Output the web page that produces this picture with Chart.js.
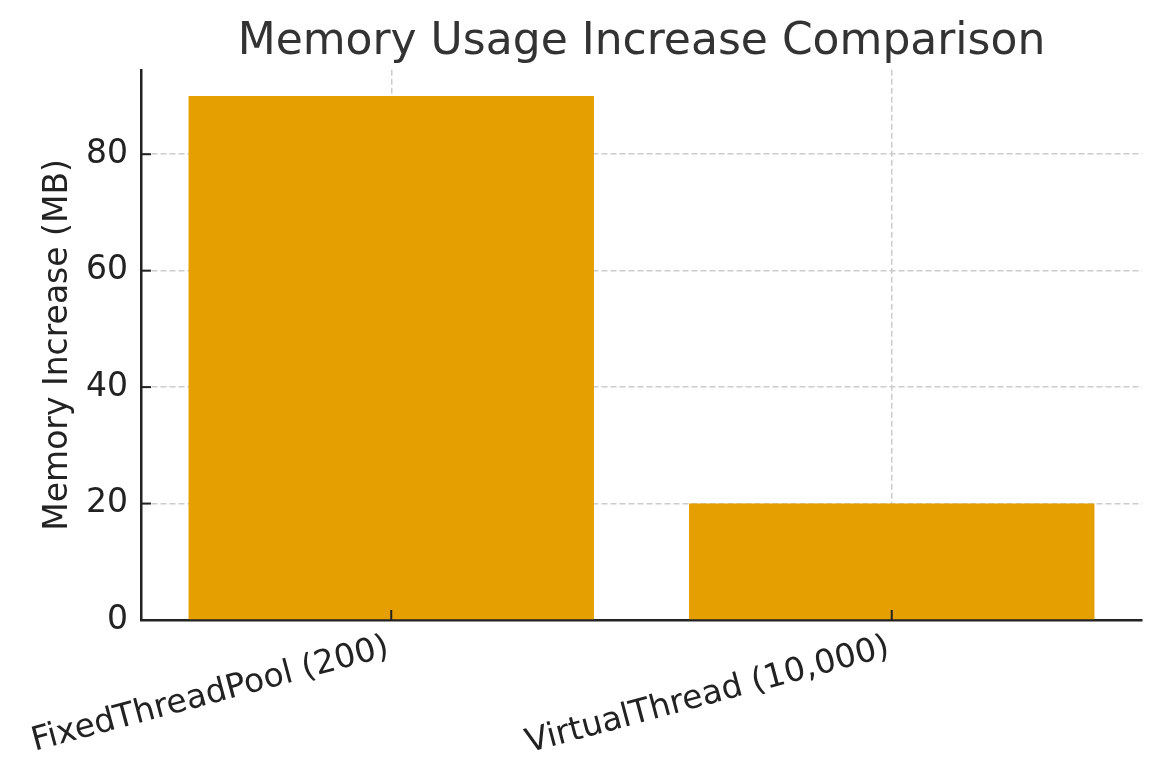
<!DOCTYPE html>
<html>
<head>
<meta charset="utf-8">
<script src="https://cdn.jsdelivr.net/npm/chart.js@4"></script>
<style>
  html, body { margin: 0; padding: 0; background: #fff; }
  canvas { display: block; }
</style>
</head>
<body>
<canvas id="myChart" width="1162" height="780"></canvas>
<script>
// Данни за графиката
const categories = ['FixedThreadPool (200)', 'VirtualThread (10,000)'];
const memoryIncrease = [90, 20];
const yTicks = [0, 20, 40, 60, 80];

const barColor = '#E69F00';
const axisColor = '#222222';
const gridColor = '#cccccc';

// Малки чертички навътре, както в matplotlib
const innerTicks = {
    id: 'innerTicks',
    afterDraw(chart) {
        const ctx = chart.ctx;
        const area = chart.chartArea;
        const x = chart.scales.x;
        const y = chart.scales.y;
        ctx.save();
        ctx.strokeStyle = axisColor;
        ctx.lineWidth = 2;
        x.ticks.forEach((t, i) => {
            const px = x.getPixelForTick(i);
            ctx.beginPath();
            ctx.moveTo(px, area.bottom);
            ctx.lineTo(px, area.bottom - 10);
            ctx.stroke();
        });
        y.ticks.forEach((t, i) => {
            const py = y.getPixelForTick(i);
            ctx.beginPath();
            ctx.moveTo(area.left, py);
            ctx.lineTo(area.left + 10, py);
            ctx.stroke();
        });
        ctx.restore();
    }
};

Chart.defaults.font.family = '"DejaVu Sans", sans-serif';

new Chart(document.getElementById('myChart'), {
    type: 'bar',
    data: {
        labels: categories,
        datasets: [{
            data: memoryIncrease,
            backgroundColor: barColor,
            barPercentage: 0.81,
            categoryPercentage: 1
        }]
    },
    options: {
        responsive: false,
        animation: false,
        devicePixelRatio: 1,
        layout: { padding: { left: 0, right: 20, top: 0, bottom: 0 } },
        plugins: {
            legend: { display: false },
            tooltip: { enabled: false },
            title: {
                display: true,
                text: 'Memory Usage Increase Comparison',
                color: '#333333',
                fullSize: false,
                font: { size: 44, weight: 'normal' },
                padding: { top: 16, bottom: 1 }
            }
        },
        scales: {
            x: {
                z: 1,
                afterFit(scale) {
                    scale.height = 160;
                    scale.paddingLeft = 0;
                    scale.paddingRight = 0;
                },
                grid: {
                    offset: false,
                    color: gridColor,
                    lineWidth: 1.5,
                    drawTicks: false
                },
                border: { color: axisColor, width: 2.5, dash: [6, 3] },
                ticks: {
                    color: axisColor,
                    font: { size: 33 },
                    minRotation: 15,
                    maxRotation: 15,
                    autoSkip: false,
                    padding: 8,
                    labelOffset: -3
                }
            },
            y: {
                z: 1,
                min: 0,
                max: 94.5,
                afterFit(scale) { scale.width = 141; },
                afterBuildTicks(scale) {
                    scale.ticks = yTicks.map(v => ({ value: v }));
                },
                grid: {
                    color: gridColor,
                    lineWidth: 1.5,
                    drawTicks: false
                },
                border: { color: axisColor, width: 2.5, dash: [6, 3] },
                ticks: {
                    color: axisColor,
                    font: { size: 33 },
                    padding: 13
                },
                title: {
                    display: true,
                    text: 'Memory Increase (MB)',
                    color: axisColor,
                    font: { size: 33 },
                    padding: { top: 39, bottom: 0 }
                }
            }
        }
    },
    plugins: [innerTicks]
});
</script>
</body>
</html>
